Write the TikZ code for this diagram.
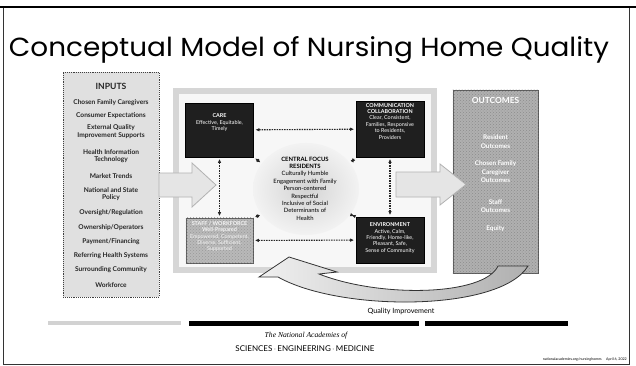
\documentclass[tikz,border=0pt]{standalone}
\usepackage{fontspec}
\setmainfont{Lato}
\newfontfamily\titlefont{Poppins}
\newfontfamily\nasfont{Liberation Serif}
\usetikzlibrary{arrows.meta,shapes.geometric,patterns}

\tikzset{
  inputitem/.style={font=\fontsize{6.6}{7.4}\selectfont\bfseries, text=black!85, align=center, inner sep=0},
  darkbox/.style={draw=black, fill=black!88, line width=0.8, inner sep=0, text=white,
                  font=\fontsize{5.4}{6.4}\selectfont},
  greybox/.style={draw=black!65, fill=gray!55, line width=0.8, inner sep=0},
  boxlabel/.style={align=center, inner sep=0, text=white, font=\fontsize{5.4}{6.4}\selectfont},
  link/.style={{Latex[length=4pt,width=3.6pt]}-{Latex[length=4pt,width=3.6pt]},
               line width=1.1pt, dash pattern=on 1.6pt off 0.9pt, black!85,
               shorten <=1.5pt, shorten >=1.5pt},
  blockarrow/.style={fill=gray!20, draw=gray!60, line width=0.8},
  outtext/.style={align=center, inner sep=0, text=white, font=\fontsize{6.4}{8.6}\selectfont\bfseries},
}

\begin{document}
\begin{tikzpicture}[x=1pt,y=-1pt]
\useasboundingbox (0,0) rectangle (636,366);
\fill[white] (0,0) rectangle (636,366);

% slide frame
\draw[black!80, line width=0.9] (3,7) -- (3,364) -- (629,364) -- (629,7);
\draw[black, line width=2.4] (0,7) -- (636,7);

% title
\node[inner sep=0, anchor=base] (title) at (309,57)
  {\resizebox{600pt}{20pt}{\titlefont Conceptual Model of Nursing Home Quality}};

% inputs column
\node[draw=black!75, densely dotted, line width=0.9, fill=gray!24,
      minimum width=96, minimum height=225, inner sep=0] (inputs) at (111,184.5) {};
\node[inputitem, font=\fontsize{8.6}{9}\selectfont\bfseries] (inhead) at (111,86) {INPUTS};
\node[inputitem] (in1)  at (111,103) {Chosen Family Caregivers};
\node[inputitem] (in2)  at (111,116) {Consumer Expectations};
\node[inputitem] (in3)  at (111,131.5) {External Quality\\Improvement Supports};
\node[inputitem] (in4)  at (111,156) {Health Information\\Technology};
\node[inputitem] (in5)  at (111,176) {Market Trends};
\node[inputitem] (in6)  at (111,194) {National and State\\Policy};
\node[inputitem] (in7)  at (111,213) {Oversight/Regulation};
\node[inputitem] (in8)  at (111,228) {Ownership/Operators};
\node[inputitem] (in9)  at (111,242) {Payment/Financing};
\node[inputitem] (in10) at (111,256) {Referring Health Systems};
\node[inputitem] (in11) at (111,270) {Surrounding Community};
\node[inputitem] (in12) at (111,285) {Workforce};

% central panel
\draw[gray!32, line width=6, fill=gray!6] (176,91) rectangle (434,270);

% resident focus
\node[ellipse, minimum width=106, minimum height=92, inner color=gray!34, outer color=gray!10,
      inner sep=0] (focus) at (306,189) {};
\node[align=center, inner sep=0, font=\fontsize{5.9}{7.4}\selectfont] (focustext) at (305,188.5)
  {\textbf{CENTRAL FOCUS}\\\textbf{RESIDENTS}\\Culturally Humble\\Engagement with Family\\
   Person-centered\\Respectful\\Inclusive of Social\\Determinants of\\Health};

% four domains
\node[darkbox, minimum width=68, minimum height=54] (care) at (219.5,130) {};
\node[boxlabel, anchor=north] (caretext) at (219.5,113.5)
  {\textbf{CARE}\\Effective, Equitable,\\Timely};

\node[darkbox, minimum width=68, minimum height=56] (comm) at (390,129) {};
\node[boxlabel, anchor=north] (commtext) at (390,103)
  {\textbf{COMMUNICATION}\\\textbf{COLLABORATION}\\Clear, Consistent,\\Families, Responsive\\to Residents,\\Providers};

\node[greybox, minimum width=67, minimum height=45] (staff) at (219.5,240.5) {};
\fill[pattern=crosshatch dots, pattern color=black!40] (staff.south west) rectangle (staff.north east);
\node[boxlabel, text=gray!8, anchor=north] (stafftext) at (219.5,221)
  {\textbf{STAFF / WORKFORCE}\\\textbf{Well-Prepared}\\Empowered, Competent,\\Diverse, Sufficient,\\Supported};

\node[darkbox, minimum width=68, minimum height=46] (env) at (390,240) {};
\node[boxlabel, anchor=north] (envtext) at (390,222.5)
  {\textbf{ENVIRONMENT}\\Active, Calm,\\Friendly, Home-like,\\Pleasant, Safe,\\Sense of Community};

% links between domains and the residents
\draw[link] (care) -- (comm);
\draw[link] (staff) -- (env);
\draw[link] (care) -- (staff);
\draw[link] (comm) -- (env);
\draw[link] (focus.150) -- (care.south east);
\draw[link] (focus.30) -- (comm.south west);
\draw[link] (focus.210) -- (staff.north east);
\draw[link] (focus.330) -- (env.north west);

% outcomes column
\node[greybox, fill=gray!62, minimum width=85, minimum height=183] (outcomes) at (495.5,181.5) {};
\fill[pattern=crosshatch dots, pattern color=black!45] (outcomes.south west) rectangle (outcomes.north east);
\node[outtext, font=\fontsize{8.4}{9}\selectfont\bfseries] (outhead) at (495.5,100) {OUTCOMES};
\node[outtext] (out1) at (495.5,141.5) {Resident\\Outcomes};
\node[outtext] (out2) at (495.5,172) {Chosen Family\\Caregiver\\Outcomes};
\node[outtext] (out3) at (495.5,206) {Staff\\Outcomes};
\node[outtext] (out4) at (495.5,229) {Equity};

% inputs feed the panel, the panel feeds the outcomes
\draw[blockarrow] (159,173) -- (192,173) -- (192,163) -- (216,185) -- (192,207)
  -- (192,197) -- (159,197) -- cycle;
\draw[blockarrow] (396,172) -- (440,172) -- (440,164) -- (466,184.5) -- (440,205)
  -- (440,197) -- (396,197) -- cycle;

% quality improvement loop
\draw[left color=gray!12, right color=gray!62, draw=black!80, line width=0.8]
  (498,266) .. controls (484,296) and (380,298) .. (319,274)
  -- (337,272) -- (289,257) -- (259,277) -- (278,277)
  .. controls (340,312) and (500,312) .. (528,266) -- cycle;
\node[font=\fontsize{7.2}{8}\selectfont, inner sep=0] (qi) at (401,311) {Quality Improvement};

% footer rules and logo
\fill[gray!35] (48,321) rectangle (181,325);
\fill[black] (189,320.5) rectangle (419,325.5);
\fill[black] (425,320.5) rectangle (568,325.5);
\node[font=\nasfont\itshape\fontsize{7.6}{8}\selectfont, inner sep=0] (nas1) at (306,336) {The National Academies of};
\node[font=\fontsize{8}{9}\selectfont, inner sep=0] (nas2) at (305,349) {SCIENCES\,$\cdot$\,ENGINEERING\,$\cdot$\,MEDICINE};
\node[font=\fontsize{3.6}{4}\selectfont, inner sep=0, anchor=east] (foot) at (627,359)
  {nationalacademies.org/nursinghomes \quad April 6, 2022};
\end{tikzpicture}
\end{document}
